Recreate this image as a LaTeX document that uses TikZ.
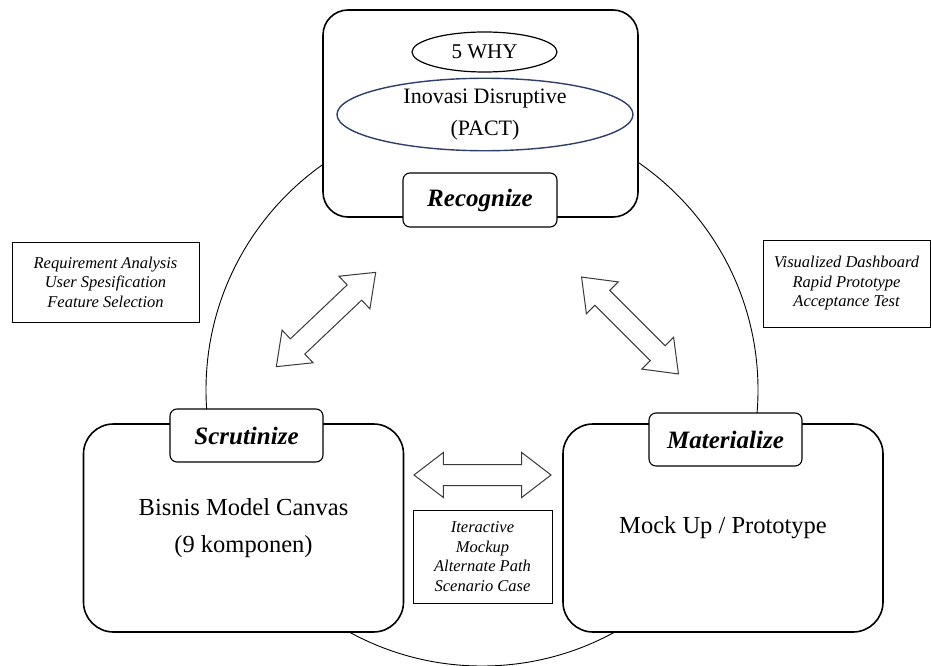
\documentclass[tikz,border=0pt]{standalone}
\usepackage{fontspec}
\setmainfont{Liberation Serif}
\usetikzlibrary{shapes.geometric,shapes.arrows}
\definecolor{ovalblue}{HTML}{2E3F6B}
\definecolor{arrowgray}{HTML}{3A3A3A}

\begin{document}
\begin{tikzpicture}[x=1pt, y=-1pt,
    phase/.style={rectangle, rounded corners=30pt, draw, line width=1.6pt, fill=white, inner sep=0pt, minimum width=320pt, minimum height=208pt, align=center, font=\fontsize{24.5}{37}\selectfont},
    tab/.style={rectangle, rounded corners=7pt, draw, line width=1.1pt, fill=white, inner sep=0pt, minimum width=153pt, minimum height=53pt, font=\fontsize{25}{30}\selectfont\bfseries\itshape},
    note/.style={rectangle, draw, line width=0.9pt, inner sep=0pt, align=center, font=\fontsize{16.5}{19.5}\selectfont\itshape},
    swap/.style={double arrow, draw=arrowgray, line width=1pt, fill=white, inner xsep=0pt, inner ysep=10pt, minimum height=137pt, double arrow head extend=12pt, double arrow tip angle=75}]
    \useasboundingbox (0,0) rectangle (931,666);

    % the cycle
    \draw [line width=0.9pt] (482,390) circle [radius=276pt];

    % the three phases
    \node [phase, minimum width=315pt, minimum height=207pt, rounded corners=25pt] (recbox) at (480.5,113.5) {};
    \node [phase] (scrbox) at (243.5,528) {Bisnis Model Canvas\\(9 komponen)};
    \node [phase] (matbox) at (723,528) {Mock Up / Prototype};

    \node [ellipse, draw, line width=1.2pt, minimum width=145pt, minimum height=40pt, inner sep=0pt, font=\fontsize{21}{25}\selectfont] (why) at (484.5,52) {5 WHY};
    \node [ellipse, draw=ovalblue, line width=1.4pt, minimum width=296pt, minimum height=65pt, inner sep=0pt, align=center, font=\fontsize{22}{32}\selectfont] (pact) at (485,114.5) {Inovasi Disruptive\\(PACT)};

    \node [tab, minimum width=154pt, minimum height=54pt] (recognize) at (480,200) {Recognize};
    \node [tab] (scrutinize) at (246.5,435.5) {Scrutinize};
    \node [tab] (materialize) at (725.5,439.5) {Materialize};

    % activities between the phases
    \node [note, minimum width=187pt, minimum height=80pt] (reqnote) at (105.5,282) {Requirement Analysis\\User Spesification\\Feature Selection};
    \node [note, minimum width=167pt, minimum height=87pt] (visnote) at (846.5,283.5) {Visualized Dashboard\\Rapid Prototype\\Acceptance Test};
    \node [note, minimum width=139pt, minimum height=93pt] (iternote) at (482.5,556.5) {Iteractive\\Mockup\\Alternate Path\\Scenario Case};

    \node [swap, rotate=43.5] (recscr) at (326,319.5) {};
    \node [swap, rotate=-45] (recmat) at (630,325.5) {};
    \node [swap] (scrmat) at (482.5,475) {};
\end{tikzpicture}
\end{document}
